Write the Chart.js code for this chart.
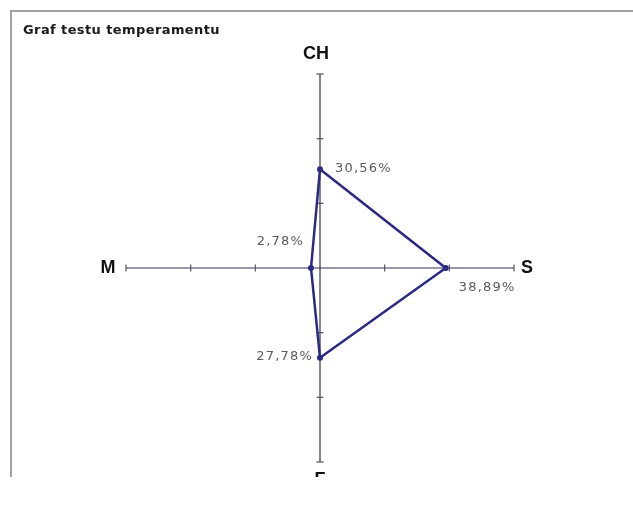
<!DOCTYPE html>
<html>
<head>
<meta charset="utf-8">
<script src="https://cdn.jsdelivr.net/npm/chart.js@4/dist/chart.umd.min.js"></script>
<style>
  html, body { margin: 0; padding: 0; background: #fff; }
  #wrap { width: 633px; height: 513px; }
</style>
</head>
<body>
<div id="wrap"><canvas id="myChart"></canvas></div>
<script>
// data
const axisLabels = ['CH', 'S', 'F', 'M'];
const percentValues = [30.56, 38.89, 27.78, 2.78];
const tickValues = [20, 40, 60];
const chartTitle = 'Graf testu temperamentu';

const navy = '#2a2a84';

// frame, title, tick marks, labels
const decorPlugin = {
  id: 'decor',
  beforeDraw(chart) {
    const ctx = chart.ctx;
    ctx.save();
    ctx.fillStyle = '#fff';
    ctx.fillRect(0, 0, chart.width, chart.height);
    ctx.strokeStyle = '#a0a0a0';
    ctx.lineWidth = 2;
    ctx.beginPath();
    ctx.moveTo(11, 477);
    ctx.lineTo(11, 11);
    ctx.lineTo(chart.width, 11);
    ctx.stroke();
    ctx.fillStyle = '#1a1a1a';
    ctx.font = 'bold 13px "DejaVu Sans"';
    ctx.letterSpacing = '0.4px';
    ctx.textBaseline = 'middle';
    ctx.fillText(chartTitle, 23, 31);
    ctx.restore();
  },
  beforeDatasetsDraw(chart) {
    const ctx = chart.ctx;
    const scale = chart.scales.r;
    ctx.save();
    ctx.strokeStyle = '#555562';
    ctx.lineWidth = 1.2;
    axisLabels.forEach((lab, i) => {
      const a = scale.getIndexAngle(i) - Math.PI / 2;
      const px = -Math.sin(a), py = Math.cos(a);
      tickValues.forEach(v => {
        const p = scale.getPointPositionForValue(i, v);
        ctx.beginPath();
        ctx.moveTo(p.x - px * 3.5, p.y - py * 3.5);
        ctx.lineTo(p.x + px * 3.5, p.y + py * 3.5);
        ctx.stroke();
      });
    });
    // axis names
    ctx.fillStyle = '#111';
    ctx.font = 'bold 18px "Liberation Sans", Arial';
    ctx.textAlign = 'center';
    ctx.textBaseline = 'middle';
    const extra = [20, 13, 18, 18];
    axisLabels.forEach((lab, i) => {
      const p = scale.getPointPosition(i, scale.drawingArea + extra[i]);
      ctx.fillText(lab, p.x - (i === 0 ? 4 : 0), p.y);
    });
    ctx.restore();
  },
  afterDatasetsDraw(chart) {
    const ctx = chart.ctx;
    const pts = chart.getDatasetMeta(0).data;
    ctx.save();
    ctx.fillStyle = '#5a5a5a';
    ctx.font = '13px "DejaVu Sans"';
    ctx.letterSpacing = '1.2px';
    ctx.textBaseline = 'middle';
    const offs = [[15, -1, 'left'], [13, 20, 'left'], [-7, -1, 'right'], [-7, -26, 'right']];
    pts.forEach((pt, i) => {
      const txt = percentValues[i].toFixed(2).replace('.', ',') + '%';
      ctx.textAlign = offs[i][2];
      ctx.fillText(txt, pt.x + offs[i][0], pt.y + offs[i][1]);
    });
    // picture is cut at the bottom
    ctx.fillStyle = '#fff';
    ctx.fillRect(0, 477, chart.width, chart.height - 477);
    ctx.restore();
  }
};

new Chart(document.getElementById('myChart'), {
  type: 'radar',
  data: {
    labels: axisLabels,
    datasets: [{
      label: chartTitle,
      data: percentValues,
      borderColor: navy,
      borderWidth: 2.5,
      backgroundColor: navy,
      fill: false,
      tension: 0,
      pointRadius: 3,
      pointBackgroundColor: navy,
      pointBorderColor: navy,
      pointBorderWidth: 0
    }]
  },
  options: {
    responsive: true,
    maintainAspectRatio: false,
    animation: false,
    layout: { padding: { left: 125, right: 118, top: 74, bottom: 51 } },
    plugins: {
      legend: { display: false },
      tooltip: { enabled: false },
      title: { display: false }
    },
    scales: {
      r: {
        min: 0,
        max: 60,
        ticks: { display: false, stepSize: 20 },
        grid: { display: false },
        angleLines: { display: true, color: '#33334a', lineWidth: 1.2 },
        pointLabels: { display: false }
      }
    }
  },
  plugins: [decorPlugin]
});
</script>
</body>
</html>
